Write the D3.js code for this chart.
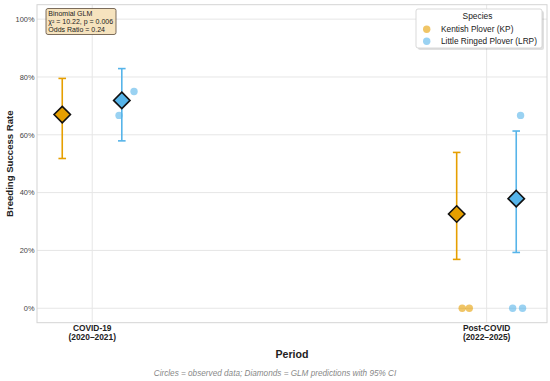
<!DOCTYPE html>
<html>
<head>
<meta charset="utf-8">
<script src="https://cdn.jsdelivr.net/npm/d3@7"></script>
<style>
  body { margin: 0; background: #fff; }
  svg { display: block; font-family: "Liberation Sans", Arial, sans-serif; }
</style>
</head>
<body>
<svg id="svg" width="550" height="381"></svg>
<script>
// categories
const periods = ["COVID-19", "Post-COVID"];
const periodYears = ["(2020–2021)", "(2022–2025)"];
const species = ["Kentish Plover (KP)", "Little Ringed Plover (LRP)"];
const yTicks = [0, 0.2, 0.4, 0.6, 0.8, 1.0];

// GLM predictions and 95% CI, per period
const predKP = [0.670, 0.326];
const predLRP = [0.719, 0.379];
const lowKP = [0.518, 0.169];
const lowLRP = [0.579, 0.193];
const highKP = [0.795, 0.539];
const highLRP = [0.829, 0.613];

// observed rates (period index, rate, jitter)
const obsKP = [[0, 0.667, 0], [1, 0, 0.014], [1, 0, 0.032]];
const obsLRP = [[0, 0.667, -0.007], [0, 0.75, 0.031], [1, 0, -0.009], [1, 0, 0.016], [1, 0.667, 0.011]];

const colors = ["#E69F00", "#56B4E9"];
const offsets = [-0.076, 0.075];

const svg = d3.select("#svg");
const pLeft = 37, pRight = 547, pTop = 4.7, pBottom = 322.7;

const x = d3.scaleLinear().domain([-0.14, 1.153]).range([pLeft, pRight]);
const y = d3.scaleLinear().domain([-0.05, 1.05]).range([pBottom, pTop]);

// grid
const g = svg.append("g");
g.selectAll(".hgrid").data(yTicks).enter().append("line")
  .attr("x1", pLeft).attr("x2", pRight)
  .attr("y1", d => y(d)).attr("y2", d => y(d))
  .attr("stroke", "#e6e6e6").attr("stroke-width", 1);
g.selectAll(".vgrid").data([0, 1]).enter().append("line")
  .attr("x1", d => x(d)).attr("x2", d => x(d))
  .attr("y1", pTop).attr("y2", pBottom)
  .attr("stroke", "#e6e6e6").attr("stroke-width", 1);

// frame
g.append("rect")
  .attr("x", pLeft).attr("y", pTop)
  .attr("width", pRight - pLeft).attr("height", pBottom - pTop)
  .attr("fill", "none").attr("stroke", "#d4d4d4").attr("stroke-width", 1);

// y axis
const yAxis = d3.axisLeft(y).tickValues(yTicks).tickFormat(d3.format(".0%")).tickSize(0).tickPadding(2.5);
const ya = svg.append("g").attr("transform", `translate(${pLeft},0)`).call(yAxis);
ya.select(".domain").remove();
ya.selectAll("text").attr("font-size", 7.4).attr("fill", "#444")
  .attr("font-family", "Liberation Sans, Arial, sans-serif");

// x tick labels
const xl = svg.append("g");
periods.forEach((p, i) => {
  const t = xl.append("text")
    .attr("x", x(i)).attr("y", 330.5)
    .attr("text-anchor", "middle")
    .attr("font-size", 8.4).attr("font-weight", "bold").attr("fill", "#222");
  t.append("tspan").attr("x", x(i)).text(p);
  t.append("tspan").attr("x", x(i)).attr("dy", 9.6).text(periodYears[i]);
});

// axis titles
svg.append("text")
  .attr("x", (pLeft + pRight) / 2).attr("y", 357.5)
  .attr("text-anchor", "middle")
  .attr("font-size", 10.6).attr("font-weight", "bold").attr("fill", "#222")
  .text("Period");
svg.append("text")
  .attr("transform", `translate(13,${(pTop + pBottom) / 2}) rotate(-90)`)
  .attr("text-anchor", "middle")
  .attr("font-size", 9.6).attr("font-weight", "bold").attr("fill", "#222")
  .text("Breeding Success Rate");
svg.append("text")
  .attr("x", 275).attr("y", 375.5)
  .attr("text-anchor", "middle")
  .attr("font-size", 8.2).attr("font-style", "italic").attr("fill", "#888")
  .text("Circles = observed data; Diamonds = GLM predictions with 95% CI");

const seriesData = [
  { pred: predKP, low: lowKP, high: highKP, obs: obsKP },
  { pred: predLRP, low: lowLRP, high: highLRP, obs: obsLRP }
];

seriesData.forEach((s, si) => {
  const col = colors[si];
  const off = offsets[si];
  const eg = svg.append("g");
  const rows = periods.map((p, i) => ({ i, pred: s.pred[i], low: s.low[i], high: s.high[i] }));
  // error bars
  eg.selectAll(".err").data(rows).enter().append("line")
    .attr("x1", d => x(d.i + off)).attr("x2", d => x(d.i + off))
    .attr("y1", d => y(d.low)).attr("y2", d => y(d.high))
    .attr("stroke", col).attr("stroke-width", 1.6);
  ["low", "high"].forEach(k => {
    eg.selectAll(".cap" + k).data(rows).enter().append("line")
      .attr("x1", d => x(d.i + off) - 3.8).attr("x2", d => x(d.i + off) + 3.8)
      .attr("y1", d => y(d[k])).attr("y2", d => y(d[k]))
      .attr("stroke", col).attr("stroke-width", 1.6);
  });
});

// observed circles
seriesData.forEach((s, si) => {
  svg.append("g").selectAll("circle").data(s.obs).enter().append("circle")
    .attr("cx", d => x(d[0] + offsets[si] + d[2]))
    .attr("cy", d => y(d[1]))
    .attr("r", 3.7)
    .attr("fill", colors[si]).attr("fill-opacity", 0.6);
});

// diamonds
seriesData.forEach((s, si) => {
  svg.append("g").selectAll("path").data(s.pred).enter().append("path")
    .attr("d", "M0,-8.2L8.2,0L0,8.2L-8.2,0Z")
    .attr("transform", (d, i) => `translate(${x(i + offsets[si])},${y(d)})`)
    .attr("fill", colors[si]).attr("stroke", "#111").attr("stroke-width", 1.6)
    .attr("stroke-linejoin", "miter");
});

// stats box
const sb = svg.append("g");
sb.append("rect")
  .attr("x", 46).attr("y", 8.5).attr("width", 70).attr("height", 26).attr("rx", 2)
  .attr("fill", "#f5deb3").attr("fill-opacity", 0.85)
  .attr("stroke", "#5a4a3a").attr("stroke-width", 0.8);
["Binomial GLM", "χ² = 10.22, p = 0.006", "Odds Ratio = 0.24"].forEach((t, i) => {
  sb.append("text").attr("x", 48.3).attr("y", 15.8 + i * 8)
    .attr("font-size", 7).attr("fill", "#222").text(t);
});

// legend
const lg = svg.append("g");
lg.append("rect")
  .attr("x", 418).attr("y", 11).attr("width", 126).attr("height", 39).attr("rx", 2)
  .attr("fill", "#000").attr("fill-opacity", 0.12);
lg.append("rect")
  .attr("x", 416).attr("y", 9).attr("width", 126).attr("height", 39).attr("rx", 2)
  .attr("fill", "#fff").attr("stroke", "#cfcfcf").attr("stroke-width", 0.8);
lg.append("text").attr("x", 477.5).attr("y", 19).attr("text-anchor", "middle")
  .attr("font-size", 8.4).attr("fill", "#222").text("Species");
species.forEach((sp, i) => {
  lg.append("circle").attr("cx", 426.7).attr("cy", 29.3 + i * 12).attr("r", 3.7)
    .attr("fill", colors[i]).attr("fill-opacity", 0.6);
  lg.append("text").attr("x", 441).attr("y", 32.3 + i * 12)
    .attr("font-size", 8.3).attr("fill", "#222").text(sp);
});
</script>
</body>
</html>
